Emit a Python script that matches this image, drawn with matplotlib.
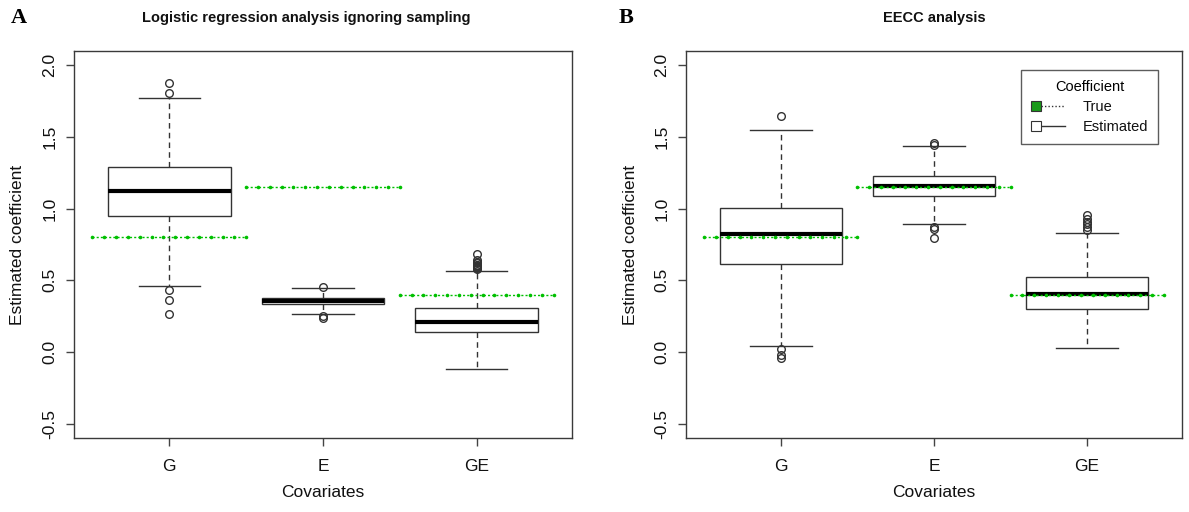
import matplotlib
matplotlib.use("Agg")
import matplotlib.pyplot as plt
import numpy as np
from matplotlib.patches import Rectangle
from matplotlib.lines import Line2D
from matplotlib.legend_handler import HandlerBase

plt.rcParams['font.family'] = ['Liberation Sans', 'DejaVu Sans']

# ---------------- data ----------------
categories = ["G", "E", "GE"]
true_values = [0.8, 1.15, 0.4]

# Panel A: logistic regression ignoring sampling
a_q1 = [0.95, 0.334, 0.137]
a_med = [1.12, 0.355, 0.21]
a_q3 = [1.29, 0.378, 0.31]
a_whislo = [0.46, 0.265, -0.116]
a_whishi = [1.77, 0.445, 0.566]
a_fliers = [
    [1.875, 1.81, 0.43, 0.36, 0.265],
    [0.455, 0.25, 0.24],
    [0.685, 0.64, 0.63, 0.62, 0.61, 0.605, 0.60, 0.595, 0.59, 0.585, 0.578],
]

# Panel B: EECC analysis
b_q1 = [0.615, 1.09, 0.30]
b_med = [0.82, 1.158, 0.404]
b_q3 = [1.005, 1.226, 0.52]
b_whislo = [0.044, 0.89, 0.026]
b_whishi = [1.55, 1.435, 0.83]
b_fliers = [
    [1.646, 0.019, -0.02, -0.044],
    [1.46, 1.446, 0.87, 0.86, 0.796],
    [0.955, 0.93, 0.91, 0.89, 0.87, 0.85],
]

yticks = [-0.5, 0.0, 0.5, 1.0, 1.5, 2.0]
ytick_labels = ["-0.5", "0.0", "0.5", "1.0", "1.5", "2.0"]

titles = ["Logistic regression analysis ignoring sampling", "EECC analysis"]
panel_letters = ["A", "B"]
xlabel = "Covariates"
ylabel = "Estimated coefficient"
legend_title = "Coefficient"
legend_labels = ["True", "Estimated"]

GREEN = "#00c000"
FRAME = "#3a3a3a"

# ---------------- figure ----------------
W, H = 1189, 512
fig = plt.figure(figsize=(W / 100, H / 100), dpi=100)

ax_rects = [
    (74 / W, 1 - 438 / H, 498 / W, 387 / H),
    (686 / W, 1 - 438 / H, 496 / W, 387 / H),
]

panels = [
    (a_q1, a_med, a_q3, a_whislo, a_whishi, a_fliers),
    (b_q1, b_med, b_q3, b_whislo, b_whishi, b_fliers),
]

letter_x = [19, 626]
title_x = [306, 934]
ylabel_x = [25, 638]

axes = []
for i, (rect, pdata) in enumerate(zip(ax_rects, panels)):
    ax = fig.add_axes(rect)
    axes.append(ax)
    q1, med, q3, wlo, whi, fl = pdata
    stats = []
    for k, cat in enumerate(categories):
        stats.append(dict(label=cat, q1=q1[k], med=med[k], q3=q3[k],
                          whislo=wlo[k], whishi=whi[k], fliers=fl[k]))
    positions = np.arange(1, len(categories) + 1)
    ax.bxp(stats, positions=positions, widths=0.8, showfliers=True,
           patch_artist=True,
           boxprops=dict(facecolor="white", edgecolor="#333333", linewidth=1.0),
           medianprops=dict(color="black", linewidth=3.0, solid_capstyle="butt"),
           whiskerprops=dict(color="#333333", linewidth=1.0, linestyle=(0, (4, 3))),
           capprops=dict(color="#333333", linewidth=1.0),
           capwidths=0.4,
           flierprops=dict(marker="o", markersize=5.5, markerfacecolor="none",
                           markeredgecolor="#333333", markeredgewidth=1.0))
    # true-value lines
    for k, tv in enumerate(true_values):
        xs = np.linspace(positions[k] - 0.5, positions[k] + 0.5, 14)
        ax.plot(xs, [tv] * len(xs), color=GREEN, linestyle=(0, (1.5, 1.5)),
                linewidth=1.0, marker="o", markersize=2.6,
                markeredgewidth=0, markerfacecolor=GREEN, zorder=5)

    ax.set_xlim(0.38, 3.62)
    ax.set_ylim(-0.6, 2.1)
    ax.set_xticks(positions)
    ax.set_xticklabels(categories)
    ax.set_yticks(yticks)
    ax.set_yticklabels(ytick_labels, rotation=90, va="center")
    ax.tick_params(axis="both", length=6, width=1.0, color="#444444",
                   labelsize=12.5, labelcolor="#111111")
    ax.tick_params(axis="x", pad=9)
    ax.tick_params(axis="y", pad=6)
    for sp in ax.spines.values():
        sp.set_color(FRAME)
        sp.set_linewidth(1.0)
    ax.set_xlabel(xlabel, fontsize=12.5, color="#111111")
    ax.set_ylabel(ylabel, fontsize=12.5, color="#111111")
    ax.xaxis.set_label_coords(0.5, -(485 - 438) / 387)
    ax.yaxis.set_label_coords((ylabel_x[i] - rect[0] * W) / (rect[2] * W), 0.5)

    fig.text(title_x[i] / W, 1 - 18 / H, titles[i], ha="center", va="center",
             fontsize=10.5, fontweight="bold", color="#111111")
    fig.text(letter_x[i] / W, 1 - 18 / H, panel_letters[i], ha="center",
             va="center", fontsize=16, fontweight="bold",
             family="Liberation Serif", color="black")


# legend with square + line keys
class KeyHandle:
    def __init__(self, face, ls, lcolor):
        self.face = face
        self.ls = ls
        self.lcolor = lcolor


class KeyHandler(HandlerBase):
    def create_artists(self, legend, orig_handle, xdescent, ydescent,
                       width, height, fontsize, trans):
        s = height * 0.95
        y0 = -ydescent + (height - s) / 2
        sq = Rectangle((-xdescent, y0), s, s, facecolor=orig_handle.face,
                       edgecolor="#333333", linewidth=0.8, transform=trans)
        ln = Line2D([-xdescent + s, -xdescent + width],
                    [-ydescent + height / 2] * 2, color=orig_handle.lcolor,
                    linestyle=orig_handle.ls, linewidth=1.0, transform=trans)
        return [ln, sq]


handles = [KeyHandle("#1a9a1a", (0, (1, 1.5)), "#333333"),
           KeyHandle("white", "-", "#333333")]
leg = axes[1].legend(handles, legend_labels, title=legend_title,
                     handler_map={KeyHandle: KeyHandler()},
                     loc="upper right", bbox_to_anchor=((1158 - 686) / 496, (438 - 70) / 387),
                     fontsize=10.5, title_fontsize=10.5, frameon=True, fancybox=False,
                     edgecolor="#333333", handlelength=2.3, handletextpad=1.2,
                     borderpad=0.7, labelspacing=0.4, borderaxespad=0)
leg.get_frame().set_linewidth(1.0)
for t in leg.get_texts():
    t.set_color("#111111")

fig.savefig("out.png", dpi=100)
